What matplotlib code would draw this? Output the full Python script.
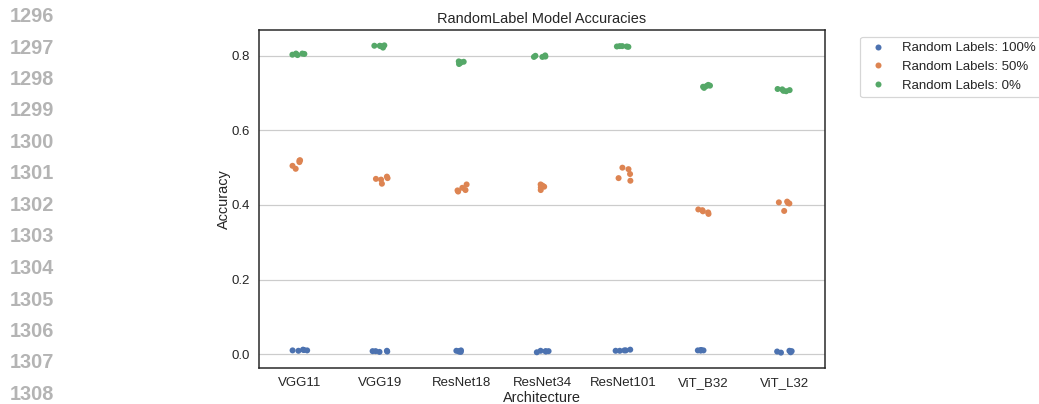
import numpy as np
import pandas as pd
import matplotlib
matplotlib.use("Agg")
import matplotlib.pyplot as plt
import seaborn as sns

# Architektury i poziomy losowych etykiet
architectures = ["VGG11", "VGG19", "ResNet18", "ResNet34", "ResNet101", "ViT_B32", "ViT_L32"]
label_levels = ["Random Labels: 100%", "Random Labels: 50%", "Random Labels: 0%"]

# Dokładności dla kolejnych seedów
acc_random100 = [
    [0.010, 0.011, 0.009, 0.012, 0.010],
    [0.009, 0.008, 0.006, 0.007, 0.008],
    [0.009, 0.010, 0.008, 0.006, 0.007],
    [0.008, 0.009, 0.008, 0.005, 0.007],
    [0.012, 0.010, 0.009, 0.009, 0.010],
    [0.010, 0.010, 0.011, 0.010, 0.010],
    [0.009, 0.008, 0.007, 0.005, 0.004],
]
acc_random50 = [
    [0.520, 0.515, 0.505, 0.497, 0.519],
    [0.457, 0.472, 0.470, 0.468, 0.476],
    [0.455, 0.440, 0.436, 0.446, 0.439],
    [0.440, 0.447, 0.449, 0.452, 0.455],
    [0.472, 0.465, 0.483, 0.496, 0.500],
    [0.388, 0.386, 0.383, 0.380, 0.376],
    [0.384, 0.404, 0.405, 0.407, 0.409],
]
acc_random0 = [
    [0.806, 0.805, 0.802, 0.803, 0.806],
    [0.827, 0.826, 0.828, 0.822, 0.827],
    [0.781, 0.785, 0.784, 0.778, 0.783],
    [0.797, 0.800, 0.798, 0.797, 0.801],
    [0.824, 0.825, 0.826, 0.826, 0.825],
    [0.714, 0.717, 0.722, 0.720, 0.719],
    [0.711, 0.710, 0.708, 0.706, 0.705],
]

# numery linii z marginesu strony
line_numbers = list(range(1296, 1309))

rows = []
for level, accs in zip(label_levels, [acc_random100, acc_random50, acc_random0]):
    for arch, vals in zip(architectures, accs):
        for v in vals:
            rows.append({"Architecture": arch, "Accuracy": v, "Random Labels": level})
df = pd.DataFrame(rows)

sns.set_theme(style="white", context="notebook",
              rc={"xtick.major.size": 4.3, "ytick.major.size": 4.3})
plt.rcParams["font.family"] = ["Liberation Sans", "DejaVu Sans"]

dpi = 86.7
W, H = 1039, 404
fig = plt.figure(figsize=(W / dpi, H / dpi), dpi=dpi)
ax = fig.add_axes([259 / W, 36 / H, 566 / W, 338 / H])

np.random.seed(7)
sns.stripplot(data=df, x="Architecture", y="Accuracy", hue="Random Labels",
              order=architectures, hue_order=label_levels, jitter=True, ax=ax)
ax.yaxis.grid(True)
ax.set_axisbelow(True)
ax.set_title("RandomLabel Model Accuracies")
ax.set_xlabel("Architecture", labelpad=1.0)
ax.set_ylabel("Accuracy", labelpad=0.5)
sns.move_legend(ax, "upper left", bbox_to_anchor=(1.05, 1), title=None)

for i, n in enumerate(line_numbers):
    fig.text(10 / W, 1 - (16.5 + 31.5 * i) / H, str(n), color="#b4b4b4",
             fontsize=16.5, fontweight="bold", va="center", ha="left")

fig.savefig("out.png", dpi=dpi)
